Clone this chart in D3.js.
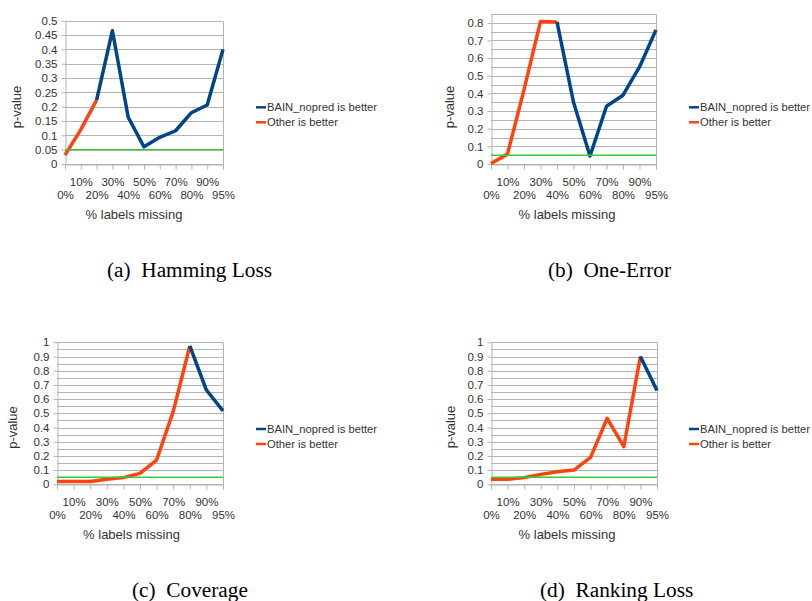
<!DOCTYPE html>
<html>
<head>
<meta charset="utf-8">
<script src="https://cdn.jsdelivr.net/npm/d3@7"></script>
<style>
  html, body { margin: 0; padding: 0; background: #fff; }
  svg { display: block; }
  .tick text, .lbl { font-family: "Liberation Sans", Arial, sans-serif; fill: #333; }
  .caption { font-family: "Liberation Serif", "Times New Roman", serif; fill: #000; white-space: pre; }
</style>
</head>
<body>
<svg id="chart" width="812" height="601"></svg>
<script>
// Share of labels removed from the training data
const categories = ["0%", "10%", "20%", "30%", "40%", "50%", "60%", "70%", "80%", "90%", "95%"];

// Significance level drawn as the green reference line
const threshold = 0.05;

// p-values per measure; each series is empty where the other method wins
const hammingBain  = [null, null, 0.223, 0.465, 0.163, 0.06, 0.093, 0.116, 0.179, 0.206, 0.40];
const hammingOther = [0.031, 0.12, 0.223, null, null, null, null, null, null, null, null];

const oneErrorBain  = [null, null, null, null, 0.805, 0.35, 0.045, 0.327, 0.39, 0.55, 0.76];
const oneErrorOther = [0.003, 0.056, 0.42, 0.808, 0.805, null, null, null, null, null, null];

const coverageBain  = [null, null, null, null, null, null, null, null, 0.974, 0.664, 0.517];
const coverageOther = [0.019, 0.019, 0.019, 0.035, 0.047, 0.077, 0.171, 0.512, 0.974, null, null];

const rankingBain  = [null, null, null, null, null, null, null, null, null, 0.9, 0.66];
const rankingOther = [0.035, 0.035, 0.047, 0.07, 0.089, 0.1, 0.19, 0.465, 0.265, 0.9, null];

const seriesNames = ["BAIN_nopred is better", "Other is better"];
const yTitle = "p-value";
const xTitle = "% labels missing";

const colors = { bain: "#004586", other: "#ff420e", threshold: "#33cc33", grid: "#b3b3b3" };

const panels = [
  { caption: "(a)  Hamming Loss", bain: hammingBain, other: hammingOther, yMax: 0.5, labelStep: 0.05,
    left: 65, right: 223, top: 20.7, bottom: 164, legendX: 256, legendY: 107.3,
    xTitleX: 134, yTitleX: 16, yTitleY: 107, captionX: 107, captionY: 277 },
  { caption: "(b)  One-Error", bain: oneErrorBain, other: oneErrorOther, yMax: 0.85, labelStep: 0.1,
    left: 491, right: 656, top: 14, bottom: 164, legendX: 689, legendY: 107.3,
    xTitleX: 567, yTitleX: 449, yTitleY: 107, captionX: 548, captionY: 277 },
  { caption: "(c)  Coverage", bain: coverageBain, other: coverageOther, yMax: 1, labelStep: 0.1,
    left: 57, right: 223, top: 342.3, bottom: 484.3, legendX: 256, legendY: 429,
    xTitleX: 131.5, yTitleX: 12.5, yTitleY: 427.5, captionX: 132, captionY: 597 },
  { caption: "(d)  Ranking Loss", bain: rankingBain, other: rankingOther, yMax: 1, labelStep: 0.1,
    left: 491, right: 657, top: 342.3, bottom: 484.3, legendX: 689, legendY: 429,
    xTitleX: 567, yTitleX: 450, yTitleY: 427, captionX: 540, captionY: 597 }
];

const svg = d3.select("#chart");
const fmt = d3.format("~g");

panels.forEach(p => {
  const g = svg.append("g");
  const x = d3.scalePoint().domain(categories).range([p.left, p.right]);
  const y = d3.scaleLinear().domain([0, p.yMax]).range([p.bottom, p.top]);

  const nGrid = Math.round(p.yMax / 0.05);
  const gridValues = d3.range(nGrid + 1).map(i => +(i * 0.05).toFixed(2));
  const nLab = Math.round(p.yMax / p.labelStep);
  const labelValues = d3.range(nLab + 1).map(i => +(i * p.labelStep).toFixed(2)).filter(v => v <= p.yMax + 1e-9);

  // horizontal grid
  g.append("g").selectAll("line").data(gridValues).join("line")
    .attr("x1", p.left).attr("x2", p.right)
    .attr("y1", d => Math.round(y(d)) + 0.5).attr("y2", d => Math.round(y(d)) + 0.5)
    .attr("stroke", colors.grid).attr("stroke-width", 1);

  // right frame
  g.append("line")
    .attr("x1", Math.round(p.right) + 0.5).attr("x2", Math.round(p.right) + 0.5)
    .attr("y1", Math.round(y(p.yMax)) + 0.5).attr("y2", Math.round(p.bottom) + 0.5)
    .attr("stroke", colors.grid);

  // y axis
  const ya = g.append("g").attr("transform", `translate(${Math.round(p.left) + 0.5},0)`)
    .call(d3.axisLeft(y).tickValues(labelValues).tickFormat(fmt).tickSize(4).tickSizeOuter(0).tickPadding(4));
  ya.select(".domain").attr("stroke", colors.grid);
  ya.selectAll(".tick line").attr("stroke", colors.grid);
  ya.selectAll(".tick text").attr("font-size", 11.5).attr("fill", "#333");

  // x axis with staggered labels
  const xa = g.append("g").attr("transform", `translate(0,${Math.round(p.bottom) + 0.5})`)
    .call(d3.axisBottom(x).tickSize(5).tickSizeOuter(0));
  xa.select(".domain").attr("stroke", colors.grid);
  xa.selectAll(".tick line").attr("stroke", colors.grid);
  xa.selectAll(".tick text")
    .attr("font-size", 11.5).attr("fill", "#333")
    .attr("dy", 0)
    .attr("y", (d, i) => (i % 2 === 1 ? 21 : 34));

  // series
  const line = d3.line()
    .defined(d => d != null)
    .x((d, i) => x(categories[i]))
    .y(d => y(d));

  g.append("path").datum(p.other)
    .attr("d", line).attr("fill", "none")
    .attr("stroke", colors.other).attr("stroke-width", 3.5).attr("stroke-linejoin", "round");
  g.append("path").datum(p.bain)
    .attr("d", line).attr("fill", "none")
    .attr("stroke", colors.bain).attr("stroke-width", 3.5).attr("stroke-linejoin", "round");

  // significance threshold
  g.append("line")
    .attr("x1", p.left).attr("x2", p.right)
    .attr("y1", y(threshold)).attr("y2", y(threshold))
    .attr("stroke", colors.threshold).attr("stroke-width", 1.4);

  // axis titles
  g.append("text").attr("class", "lbl")
    .attr("x", p.xTitleX).attr("y", p.bottom + 54.5)
    .attr("text-anchor", "middle").attr("font-size", 13)
    .text(xTitle);
  g.append("text").attr("class", "lbl")
    .attr("transform", `translate(${p.yTitleX},${p.yTitleY}) rotate(-90)`)
    .attr("text-anchor", "middle").attr("dy", "0.35em").attr("font-size", 13)
    .text(yTitle);

  // legend
  const legendColors = [colors.bain, colors.other];
  seriesNames.forEach((name, i) => {
    const ly = p.legendY + i * 15;
    g.append("line")
      .attr("x1", p.legendX).attr("x2", p.legendX + 10)
      .attr("y1", ly).attr("y2", ly)
      .attr("stroke", legendColors[i]).attr("stroke-width", 2.5);
    g.append("text").attr("class", "lbl")
      .attr("x", p.legendX + 11).attr("y", ly).attr("dy", "0.35em")
      .attr("font-size", 11.2).text(name);
  });

  // caption
  svg.append("text").attr("class", "caption")
    .attr("x", p.captionX).attr("y", p.captionY)
    .attr("font-size", 21.3)
    .text(p.caption);
});
</script>
</body>
</html>
